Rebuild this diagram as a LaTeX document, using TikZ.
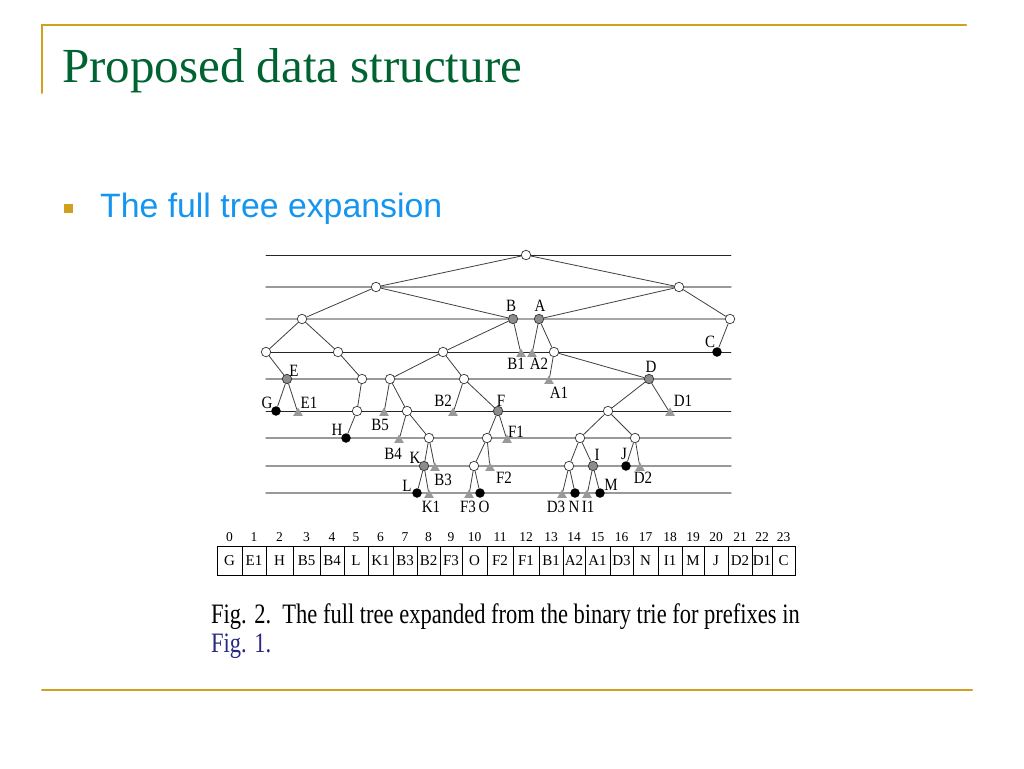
\documentclass[tikz,border=0pt]{standalone}
\usepackage{fontspec}
\setmainfont{Liberation Serif}
\newfontfamily\arialfont{Liberation Sans}
\usepackage{graphicx}
\usepackage{xcolor}
\usepackage{tikz}
\usetikzlibrary{shapes.geometric, positioning}
\definecolor{slidegold}{RGB}{210,160,30}
\definecolor{titlegreen}{RGB}{0,100,50}
\definecolor{bulletblue}{RGB}{20,150,240}
\definecolor{refblue}{RGB}{40,40,130}
\newcommand{\tall}[2][1.15]{\scalebox{1}[#1]{#2}}

\begin{document}
\begin{tikzpicture}[x=1pt, y=-1pt, line cap=round,
  inode/.style={circle, draw=black!80, fill=white, line width=0.7pt, inner sep=0pt, minimum size=9.5pt},
  pnode/.style={inode, fill=black!45},
  bnode/.style={circle, fill=black, inner sep=0pt, minimum size=9.5pt},
  leaf/.style={regular polygon, regular polygon sides=3, fill=black!40, inner sep=0pt, minimum size=11pt},
  link/.style={draw=black!75, line width=0.8pt},
  lbl/.style={font=\fontsize{15}{15}\selectfont, inner sep=0pt},
  cell/.style={draw, line width=0.7pt, minimum height=29pt, inner sep=0pt, font=\fontsize{15}{15}\selectfont},
  idx/.style={inner sep=0pt, font=\fontsize{13.5}{13.5}\selectfont},
]
	\fill[white] (0,0) rectangle (1024,768);
	\useasboundingbox (0,0) rectangle (1024,768);

	\draw[slidegold, line width=2pt] (42,93) -- (42,25) -- (966,25);
	\draw[slidegold, line width=2pt] (42,690) -- (972,690);

	\node[anchor=base west, inner sep=0pt, text=titlegreen, font=\fontsize{49}{49}\selectfont] (title) at (62,82) {Proposed data structure};
	\fill[slidegold] (64,204) rectangle (73,213);
	\node[anchor=base west, inner sep=0pt, text=bulletblue, font=\arialfont\fontsize{33.8}{33.8}\selectfont] (sub) at (100,217) {The full tree expansion};

	% levels of the tree
	\foreach \y/\c/\w in {255/black!85/0.9, 287/black!40/1.4, 319/black!35/1.4, 352/black!85/0.9, 379/black!40/1.4, 411/black!85/0.9, 438/black!40/1.4, 466/black!40/1.4, 493/black!40/1.4}
		\draw[\c, line width=\w pt] (266,\y) -- (731,\y);

	\node[inode] (n0) at (526,255) {};

	\node[inode] (n1a) at (376,287) {};
	\node[inode] (n1b) at (679,287) {};

	\node[inode] (n2a) at (302,319) {};
	\node[pnode] (B) at (513,319) {};
	\node[pnode] (A) at (539,319) {};
	\node[inode] (n2d) at (730,319) {};

	\node[inode] (n3a) at (266,352) {};
	\node[inode] (n3b) at (338,352) {};
	\node[inode] (n3c) at (443,352) {};
	\node[leaf] (B1) at (521,354) {};
	\node[leaf] (A2) at (532,354) {};
	\node[inode] (n3d) at (554,352) {};
	\node[bnode] (C) at (717,352) {};

	\node[pnode] (E) at (287,379) {};
	\node[inode] (n4b) at (362,379) {};
	\node[inode] (n4c) at (390,379) {};
	\node[inode] (n4d) at (464,379) {};
	\node[leaf] (A1) at (549,381) {};
	\node[pnode] (D) at (649,379) {};

	\node[bnode] (G) at (276,411) {};
	\node[leaf] (E1) at (298,413) {};
	\node[inode] (n5a) at (357,411) {};
	\node[leaf] (B5) at (384,413) {};
	\node[inode] (n5b) at (407,411) {};
	\node[leaf] (B2) at (453,413) {};
	\node[pnode] (F) at (498,411) {};
	\node[inode] (n5c) at (608,411) {};
	\node[leaf] (D1) at (670,413) {};

	\node[bnode] (H) at (346,438) {};
	\node[leaf] (B4) at (399,440) {};
	\node[inode] (n6a) at (429,438) {};
	\node[inode] (n6b) at (487,438) {};
	\node[leaf] (F1) at (507,440) {};
	\node[inode] (n6c) at (580,438) {};
	\node[inode] (n6d) at (635,438) {};

	\node[pnode] (K) at (424,466) {};
	\node[leaf] (B3) at (435,468) {};
	\node[inode] (n7a) at (474,466) {};
	\node[leaf] (F2) at (490,468) {};
	\node[inode] (n7b) at (569,466) {};
	\node[pnode] (I) at (593,466) {};
	\node[bnode] (J) at (626,466) {};
	\node[leaf] (D2) at (640,468) {};

	\node[bnode] (L) at (417,493) {};
	\node[leaf] (K1) at (429,495) {};
	\node[leaf] (F3) at (469,495) {};
	\node[bnode] (O) at (480,493) {};
	\node[leaf] (D3) at (562,495) {};
	\node[bnode] (N) at (575,493) {};
	\node[leaf] (I1) at (587,495) {};
	\node[bnode] (M) at (600,493) {};

	\foreach \p/\q in {n0/n1a, n0/n1b, n1a/n2a, n1a/B, n1b/A, n1b/n2d, n2a/n3a, n2a/n3b, B/n3c, B/B1, A/A2, A/n3d, n2d/C, n3a/E, n3b/n4b, n3c/n4c, n3c/n4d, n3d/A1, n3d/D, E/G, E/E1, n4b/n5a, n4c/B5, n4c/n5b, n4d/B2, n4d/F, D/n5c, D/D1, n5a/H, n5b/B4, n5b/n6a, F/n6b, F/F1, n5c/n6c, n5c/n6d, n6a/K, n6a/B3, n6b/n7a, n6b/F2, n6c/n7b, n6c/I, n6d/J, n6d/D2, K/L, K/K1, n7a/F3, n7a/O, n7b/D3, n7b/N, I/I1, I/M}
		\draw[link] (\p) -- (\q);

	% prefix names
	\node[lbl] (lB) at (511,306) {\tall{B}};
	\node[lbl] (lA) at (540,306) {\tall{A}};
	\node[lbl] (lC) at (710,342) {\tall{C}};
	\node[lbl] (lB1) at (516,364) {\tall{B1}};
	\node[lbl] (lA2) at (539,364) {\tall{A2}};
	\node[lbl] (lE) at (294,371) {\tall{E}};
	\node[lbl] (lD) at (651,367) {\tall{D}};
	\node[lbl] (lA1) at (559,393) {\tall{A1}};
	\node[lbl] (lG) at (267,403) {\tall{G}};
	\node[lbl] (lE1) at (309,403) {\tall{E1}};
	\node[lbl] (lD1) at (683,401) {\tall{D1}};
	\node[lbl] (lB2) at (443,401) {\tall{B2}};
	\node[lbl] (lF) at (501,401) {\tall{F}};
	\node[lbl] (lB5) at (380,425) {\tall{B5}};
	\node[lbl] (lH) at (337,430) {\tall{H}};
	\node[lbl] (lF1) at (516,432) {\tall{F1}};
	\node[lbl] (lB4) at (393,454) {\tall{B4}};
	\node[lbl] (lK) at (415,458) {\tall{K}};
	\node[lbl] (lB3) at (443,480) {\tall{B3}};
	\node[lbl] (lF2) at (504,478) {\tall{F2}};
	\node[lbl] (lI) at (597,455) {\tall{I}};
	\node[lbl] (lJ) at (624,454) {\tall{J}};
	\node[lbl] (lD2) at (643,478) {\tall{D2}};
	\node[lbl] (lM) at (611,485) {\tall{M}};
	\node[lbl] (lL) at (407,486) {\tall{L}};
	\node[lbl] (lK1) at (431,507) {\tall{K1}};
	\node[lbl] (lF3) at (468,507) {\tall{F3}};
	\node[lbl] (lO) at (484,507) {\tall{O}};
	\node[lbl] (lD3) at (556,507) {\tall{D3}};
	\node[lbl] (lN) at (574,507) {\tall{N}};
	\node[lbl] (lI1) at (588,507) {\tall{I1}};

	% the array of next hops
	\foreach \a/\b/\t [count=\i from 0] in {217/242/G, 242/266/E1, 266/293/H, 293/320/B5, 320/344/B4, 344/368/L, 368/393/K1, 393/417/B3, 417/440/B2, 440/462/F3, 462/487/O, 487/513/F2, 513/539/F1, 539/563/B1, 563/585/A2, 585/610/A1, 610/633/D3, 633/658/N, 658/682/I1, 682/704/M, 704/728/J, 728/752/D2, 752/772/D1, 772/795/C}{
		\node[cell, minimum width={(\b-\a)*1pt}] (c\i) at ({(\a+\b)/2},560.5) {\t};
		\node[idx, above=4pt of c\i] (i\i) {\i};
	}

	\node[anchor=base west, inner sep=0pt, font=\fontsize{22.5}{22.5}\selectfont] (cap) at (211,623) {\tall[1.25]{Fig. 2.\ \ The full tree expanded from the binary trie for prefixes in}};
	\node[anchor=base west, inner sep=0pt, text=refblue, font=\fontsize{22.5}{22.5}\selectfont] (capref) at (211,652) {\tall[1.25]{Fig. 1.}};
\end{tikzpicture}
\end{document}
